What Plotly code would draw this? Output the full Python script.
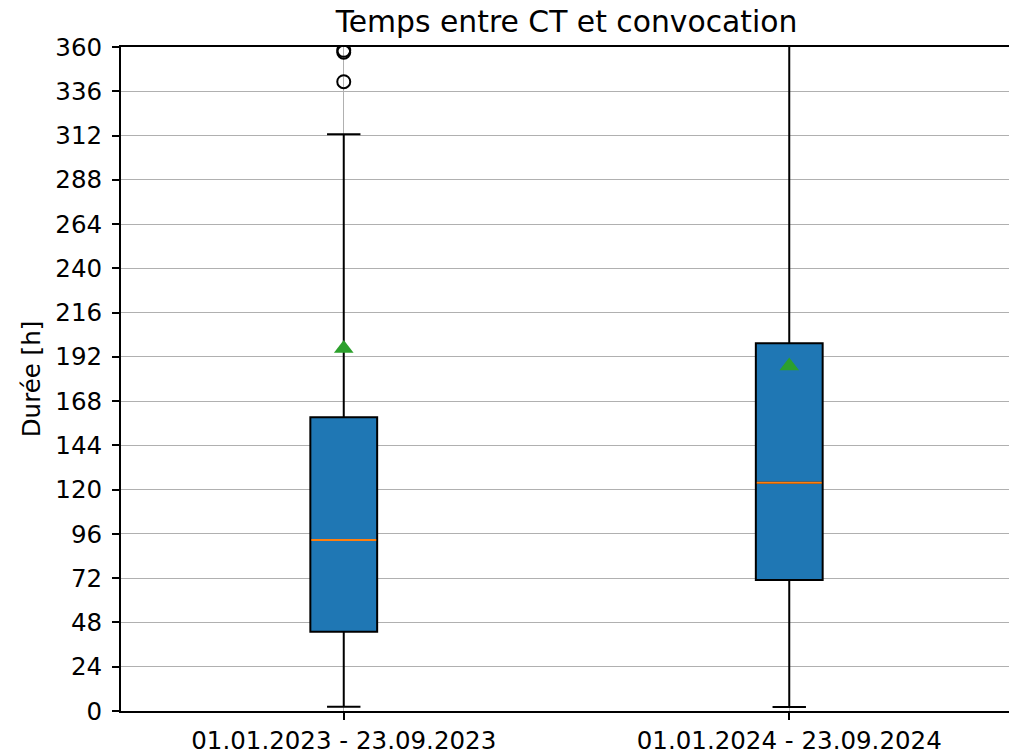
import plotly.graph_objects as go

# Data (hours)
categories = ["01.01.2023 - 23.09.2023", "01.01.2024 - 23.09.2024"]
positions = [1, 2]
q1 = [43.0, 71.0]
median = [92.7, 123.8]
q3 = [159.2, 199.4]
lower_whisker = [2.3, 2.2]
upper_whisker = [312.7, 385.0]
means = [196.6, 187.1]
outliers_pos = [1, 1, 1]
outliers_val = [341.2, 357.2, 358.2]

y_ticks = list(range(0, 361, 24))

BOX_W = 0.15
FONT = "DejaVu Sans"

fig = go.Figure()

fig.add_trace(go.Box(
    x=positions, q1=q1, median=median, q3=q3,
    lowerfence=lower_whisker, upperfence=upper_whisker,
    width=BOX_W, whiskerwidth=0.5,
    fillcolor="#1f77b4",
    line=dict(color="black", width=2),
    boxpoints=False, showlegend=False, hoverinfo="skip",
))

# orange median lines
for p, m in zip(positions, median):
    fig.add_trace(go.Scatter(
        x=[p - BOX_W / 2 + 0.002, p + BOX_W / 2 - 0.002], y=[m, m],
        mode="lines", line=dict(color="#ff7f0e", width=2),
        showlegend=False, hoverinfo="skip",
    ))

# means
fig.add_trace(go.Scatter(
    x=positions, y=means, mode="markers",
    marker=dict(symbol="triangle-up", color="#2ca02c", size=17, line=dict(width=0)),
    showlegend=False, hoverinfo="skip",
))

# outliers
fig.add_trace(go.Scatter(
    x=outliers_pos, y=outliers_val, mode="markers",
    marker=dict(symbol="circle-open", color="black", size=13, line=dict(width=2, color="black")),
    showlegend=False, hoverinfo="skip",
))

fig.update_layout(
    width=1012, height=755,
    margin=dict(l=121, r=0, t=47, b=44),
    paper_bgcolor="white", plot_bgcolor="white",
    boxmode="overlay",
    font=dict(family=FONT, color="black", size=24),
    title=dict(text="Temps entre CT et convocation", xref="paper", x=0.5, xanchor="center",
               y=0.971, yanchor="middle", font=dict(size=29.8, family=FONT)),
)

fig.update_xaxes(
    range=[0.5, 2.5], tickvals=positions, ticktext=categories,
    showgrid=True, gridcolor="#b0b0b0", gridwidth=1.4,
    showline=True, linecolor="black", linewidth=2, mirror=True,
    ticks="outside", ticklen=7, tickwidth=1.6, tickcolor="black",
    tickfont=dict(size=24.5, family=FONT), zeroline=False,
)
fig.update_yaxes(
    range=[0, 360], tickvals=y_ticks, ticktext=[str(v) for v in y_ticks],
    showgrid=True, gridcolor="#b0b0b0", gridwidth=1.4,
    showline=True, linecolor="black", linewidth=2, mirror=False,
    ticks="outside", ticklen=7, tickwidth=1.6, tickcolor="black",
    tickfont=dict(size=24.5, family=FONT), zeroline=False,
    ticklabelstandoff=5,
    title=dict(text="Durée [h]", font=dict(size=24.5, family=FONT), standoff=8),
)

fig.write_html(
    "out.html",
    config={"displayModeBar": False},
    post_script="document.body.style.margin='0';document.body.style.overflow='hidden';",
)
